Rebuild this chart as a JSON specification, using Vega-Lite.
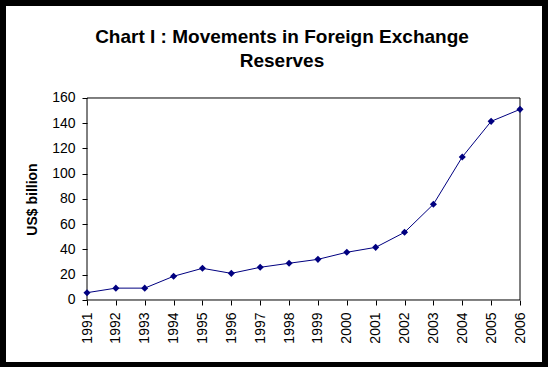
{
  "$schema": "https://vega.github.io/schema/vega-lite/v6.json",
  "width": 536,
  "height": 356,
  "padding": {"left": 6, "top": 6, "right": 6, "bottom": 5},
  "autosize": {"type": "none"},
  "background": "black",
  "config": {
    "view": {"fill": "white", "stroke": null},
    "font": "Liberation Sans",
    "axisX": {
      "offset": -62,
      "format": "d",
      "labelAngle": -90,
      "labelAlign": "right",
      "labelBaseline": "middle",
      "labelFontSize": 14,
      "labelColor": "black",
      "labelPadding": 7,
      "labelOverlap": false,
      "labelFlush": false,
      "domain": false,
      "grid": false,
      "ticks": true,
      "tickSize": 5,
      "tickColor": "black"
    },
    "axisY": {
      "offset": -81,
      "labelFontSize": 14,
      "labelColor": "black",
      "labelPadding": 7,
      "labelOverlap": false,
      "labelFlush": false,
      "domain": false,
      "grid": false,
      "tickSize": 5,
      "tickColor": "black",
      "titleFontSize": 14,
      "titleFontWeight": "bold",
      "titleColor": "black",
      "titleAngle": -90,
      "titleX": -55,
      "titleY": 193,
      "titleAlign": "center",
      "titleBaseline": "middle"
    }
  },
  "title": {
    "text": ["Chart I : Movements in Foreign Exchange", "Reserves"],
    "fontSize": 19,
    "fontWeight": "bold",
    "color": "black",
    "anchor": "middle",
    "frame": "group",
    "baseline": "top",
    "lineHeight": 24,
    "offset": -65,
    "dx": 8
  },
  "data": {
    "values": [
      {"year": 1991, "reserves": 5.8},
      {"year": 1992, "reserves": 9.4},
      {"year": 1993, "reserves": 9.4},
      {"year": 1994, "reserves": 18.8},
      {"year": 1995, "reserves": 25.1},
      {"year": 1996, "reserves": 21.1},
      {"year": 1997, "reserves": 25.9},
      {"year": 1998, "reserves": 29.1},
      {"year": 1999, "reserves": 32.2},
      {"year": 2000, "reserves": 37.8},
      {"year": 2001, "reserves": 41.7},
      {"year": 2002, "reserves": 53.6},
      {"year": 2003, "reserves": 75.8},
      {"year": 2004, "reserves": 113.3},
      {"year": 2005, "reserves": 141.5},
      {"year": 2006, "reserves": 151.0}
    ]
  },
  "layer": [
    {
      "data": {"values": [{"x0": 1991, "x1": 2006, "y0": 0, "y1": 160}]},
      "mark": {"type": "rect", "fill": "transparent", "stroke": "black", "strokeWidth": 1},
      "encoding": {
        "x": {
          "field": "x0",
          "type": "quantitative",
          "scale": {"domain": [1988.194, 2006.762], "nice": false, "zero": false},
          "axis": {"title": null, "values": [1991, 1992, 1993, 1994, 1995, 1996, 1997, 1998, 1999, 2000, 2001, 2002, 2003, 2004, 2005, 2006]}
        },
        "x2": {"field": "x1"},
        "y": {
          "field": "y0",
          "type": "quantitative",
          "scale": {"domain": [-49.11, 232.87], "nice": false, "zero": false},
          "axis": {"title": "US$ billion", "values": [0, 20, 40, 60, 80, 100, 120, 140, 160]}
        },
        "y2": {"field": "y1"}
      }
    },
    {
      "mark": {
        "type": "line",
        "color": "#000080",
        "strokeWidth": 1,
        "point": {"shape": "diamond", "size": 50, "filled": true, "color": "#000080"}
      },
      "encoding": {
        "x": {
          "field": "year",
          "type": "quantitative",
          "axis": {"title": null, "values": [1991, 1992, 1993, 1994, 1995, 1996, 1997, 1998, 1999, 2000, 2001, 2002, 2003, 2004, 2005, 2006]}
        },
        "y": {
          "field": "reserves",
          "type": "quantitative",
          "axis": {"title": "US$ billion", "values": [0, 20, 40, 60, 80, 100, 120, 140, 160]}
        }
      }
    }
  ]
}
